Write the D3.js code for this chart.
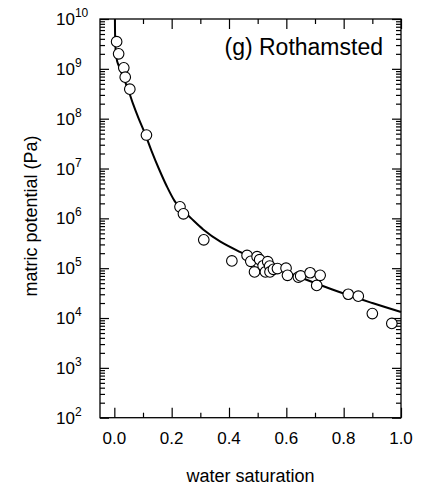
<!DOCTYPE html>
<html>
<head>
<meta charset="utf-8">
<script src="https://cdn.jsdelivr.net/npm/d3@7"></script>
<style>
    body { margin: 0; background: #fff; }
    svg { display: block; }
</style>
</head>
<body>
<div id="chart"></div>
<script>
// measured points: water saturation vs matric potential (Pa)
var pointSat = [0.008, 0.015, 0.033, 0.038, 0.054, 0.112, 0.229, 0.241, 0.312, 0.41,
    0.463, 0.476, 0.489, 0.498, 0.507, 0.519, 0.527, 0.535, 0.542, 0.543,
    0.555, 0.569, 0.599, 0.604, 0.642, 0.650, 0.683, 0.706, 0.718, 0.816,
    0.851, 0.900, 0.968];
var pointPot = [3.5e9, 2.0e9, 1.05e9, 6.8e8, 3.9e8, 4.7e7, 1.7e6, 1.23e6, 3.7e5, 1.4e5,
    1.8e5, 1.37e5, 8.4e4, 1.7e5, 1.48e5, 1.12e5, 8.4e4, 1.35e5, 1.1e5, 8.4e4,
    9.5e4, 9.8e4, 1.0e5, 7.2e4, 6.6e4, 7.0e4, 8.1e4, 4.5e4, 7.2e4, 3.0e4,
    2.75e4, 1.23e4, 7.8e3];

// fitted curve
var curveSat = [0.002, 0.003, 0.005, 0.01, 0.02, 0.035, 0.05, 0.065, 0.085, 0.107,
    0.13, 0.155, 0.183, 0.21, 0.23, 0.264, 0.31, 0.37, 0.44, 0.52,
    0.6, 0.65, 0.78, 0.9, 1.0];
var curvePot = [1e10, 3.98e9, 2.24e9, 1.41e9, 1e9, 6.0e8, 3.6e8, 2.0e8, 1e8, 5.0e7,
    2.24e7, 1e7, 4.4e6, 2.24e6, 1.58e6, 1.05e6, 6.0e5, 3.4e5, 2.1e5, 1.29e5,
    8.5e4, 6.5e4, 3.4e4, 2.0e4, 1.32e4];

var xTicks = [0.0, 0.2, 0.4, 0.6, 0.8, 1.0];
var xMinorTicks = [0.1, 0.3, 0.5, 0.7, 0.9];
var yExponents = [2, 3, 4, 5, 6, 7, 8, 9, 10];

var font = "'Liberation Sans', Arial, Helvetica, sans-serif";
var pwidth = 421, pheight = 488;
var margin = { top: 19, right: 20, bottom: 70.3, left: 100 };
var width = pwidth - margin.left - margin.right;
var height = pheight - margin.top - margin.bottom;

var svgContainer = d3.select("#chart").append("svg")
    .attr("width", pwidth)
    .attr("height", pheight);
var svg = svgContainer.append("g")
    .attr("transform", "translate(" + margin.left + "," + margin.top + ")");

var x = d3.scaleLinear().domain([-0.05, 1.0]).range([0, width]);
var y = d3.scaleLog().domain([1e2, 1e10]).range([height, 0]);

// minor ticks for log axis: 2..9 in each decade
var yMinor = [];
for (var e = 2; e < 10; e++) {
    for (var m = 2; m <= 9; m++) yMinor.push(m * Math.pow(10, e));
}
var yMajor = yExponents.map(function (k) { return Math.pow(10, k); });

//draw ticks, all pointing inward on the four sides
function tickAxis(axisFn, scale, vals, size, transform) {
    svg.append("g")
        .attr("transform", transform)
        .call(axisFn(scale).tickValues(vals).tickSize(size).tickFormat(""))
        .call(function (g) {
            g.select(".domain").remove();
            g.selectAll("line").attr("stroke", "#000").attr("stroke-width", 1.2);
        });
}
tickAxis(d3.axisTop, x, xTicks, 10, "translate(0," + height + ")");
tickAxis(d3.axisTop, x, xMinorTicks, 5, "translate(0," + height + ")");
tickAxis(d3.axisBottom, x, xTicks, 10, "translate(0,0)");
tickAxis(d3.axisBottom, x, xMinorTicks, 5, "translate(0,0)");
tickAxis(d3.axisRight, y, yMajor, 9, "translate(0,0)");
tickAxis(d3.axisRight, y, yMinor, 5, "translate(0,0)");
tickAxis(d3.axisLeft, y, yMajor, 9, "translate(" + width + ",0)");
tickAxis(d3.axisLeft, y, yMinor, 5, "translate(" + width + ",0)");

//frame
svg.append("rect")
    .attr("x", 0)
    .attr("y", 0)
    .attr("width", width)
    .attr("height", height)
    .attr("fill", "none")
    .attr("stroke", "#000")
    .attr("stroke-width", 1.3);

//x tick labels
svg.selectAll(".xlab").data(xTicks).enter().append("text")
    .attr("class", "xlab")
    .attr("x", function (d) { return x(d); })
    .attr("y", height + 26.5)
    .attr("text-anchor", "middle")
    .attr("font-family", font)
    .attr("font-size", 17)
    .text(function (d) { return d.toFixed(1); });

//y tick labels as 10 with superscript
var ylab = svg.selectAll(".ylab").data(yExponents).enter().append("text")
    .attr("class", "ylab")
    .attr("x", -44)
    .attr("y", function (d) { return y(Math.pow(10, d)) + 6; })
    .attr("font-family", font)
    .attr("font-size", 17);
ylab.append("tspan").text("10");
ylab.append("tspan")
    .attr("dy", -8)
    .attr("font-size", 12)
    .text(function (d) { return d; });

//fitted curve
var curveData = curveSat.map(function (s, i) { return [s, curvePot[i]]; });
var curveGen = d3.line()
    .curve(d3.curveCatmullRom.alpha(0.5))
    .x(function (d) { return x(d[0]); })
    .y(function (d) { return y(d[1]); });
svg.append("path")
    .attr("d", curveGen(curveData))
    .attr("fill", "none")
    .attr("stroke", "#000")
    .attr("stroke-width", 2);

//data points
var pointData = pointSat.map(function (s, i) { return [s, pointPot[i]]; });
svg.selectAll(".pt").data(pointData).enter().append("circle")
    .attr("class", "pt")
    .attr("cx", function (d) { return x(d[0]); })
    .attr("cy", function (d) { return y(d[1]); })
    .attr("r", 5.3)
    .attr("fill", "#fff")
    .attr("stroke", "#000")
    .attr("stroke-width", 1.1);

//panel title
svg.append("text")
    .attr("x", 283)
    .attr("y", 36)
    .attr("text-anchor", "end")
    .attr("font-family", font)
    .attr("font-size", 23)
    .text("(g) Rothamsted");

//axis titles
svgContainer.append("text")
    .attr("x", margin.left + width / 2)
    .attr("y", 482)
    .attr("text-anchor", "middle")
    .attr("font-family", font)
    .attr("font-size", 18)
    .text("water saturation");
svgContainer.append("text")
    .attr("transform", "translate(37,216) rotate(-90)")
    .attr("text-anchor", "middle")
    .attr("font-family", font)
    .attr("font-size", 18)
    .text("matric potential (Pa)");
</script>
</body>
</html>
